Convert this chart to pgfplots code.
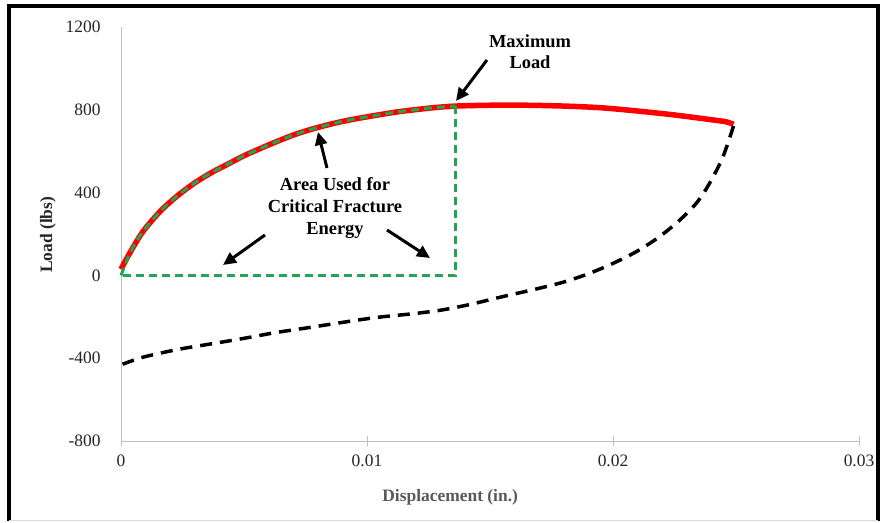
\documentclass[border=0pt]{standalone}
\usepackage{fontspec}
\setmainfont{Liberation Serif}
\usepackage{pgfplots}
\pgfplotsset{compat=1.18}
\usetikzlibrary{arrows.meta,calc}
\definecolor{fgreen}{RGB}{34,165,80}
\begin{document}
\begin{tikzpicture}
\path[use as bounding box] (0,0) rectangle (880bp,523bp);
\fill[white] (0,0) rectangle (880bp,523bp);
\begin{axis}[
 at={(121bp,82bp)}, anchor=south west,
 scale only axis, width=738bp, height=414bp,
 xmin=0, xmax=0.03, ymin=-800, ymax=1200,
 scaled x ticks=false,
 axis x line=bottom, axis y line=left,
 axis line style={-, draw=black!25, line width=1bp},
 xtick={0,0.01,0.02,0.03}, xticklabels={0,0.01,0.02,0.03},
 ytick={-800,-400,0,400,800,1200}, yticklabels={-800,-400,0,400,800,1200},
 major tick length=10bp, tick align=center,
 x tick style={draw=black!25, line width=1bp},
 y tick style={draw=none},
 tick label style={font=\fontsize{17.5}{20}\selectfont, text=black!85},
 yticklabel style={xshift=-12bp},
 xticklabel style={yshift=-5bp},
 xlabel={Displacement (in.)}, ylabel={Load (lbs)},
 xlabel style={at={($(axis description cs:0.446,0)+(0,-56bp)$)}, anchor=center,
   font=\bfseries\fontsize{17.5}{20}\selectfont, text=black!65},
 ylabel style={at={($(axis description cs:0,0.498)+(-73bp,0)$)}, anchor=center,
   font=\bfseries\fontsize{17.5}{20}\selectfont, text=black!85},
 clip=false,
]
% load curve
\addplot[red, line width=5.5bp, smooth, tension=0.5] coordinates {
 (0,30) (0.0004,117) (0.0009,213) (0.0016,310) (0.0023,385) (0.0030,447)
 (0.0037,498) (0.0044,541) (0.0050,578) (0.0057,615) (0.0064,650) (0.0071,682)
 (0.0078,708) (0.0086,733) (0.0093,751) (0.0100,766) (0.0107,780) (0.0113,791)
 (0.0120,801) (0.0127,810) (0.0136,818)
 (0.0150,822) (0.0165,822) (0.0180,818) (0.0195,810) (0.0210,794) (0.0225,775)
 (0.0240,752) (0.0246,742) (0.0249,730)};
% unloading
\addplot[black, line width=3.5bp, dash pattern=on 12bp off 8bp, smooth, tension=0.5] coordinates {
 (0.0249,722) (0.02447,573) (0.02394,448) (0.02341,352) (0.02272,268) (0.0219,188)
 (0.0210,118) (0.0200,58) (0.0190,8) (0.0180,-32) (0.0169,-65) (0.0155,-103)
 (0.0142,-140) (0.0130,-168) (0.0118,-186) (0.0104,-203) (0.0090,-227)
 (0.0077,-251) (0.0063,-276) (0.0050,-304) (0.0036,-332) (0.0023,-358)
 (0.0009,-395) (0.0000,-432)};
% area used for critical fracture energy
\addplot[fgreen, line width=3bp, dash pattern=on 8bp off 5bp, smooth, tension=0.5] coordinates {
 (0,0) (0.0004,117) (0.0009,213) (0.0016,310) (0.0023,385) (0.0030,447)
 (0.0037,498) (0.0044,541) (0.0050,578) (0.0057,615) (0.0064,650) (0.0071,682)
 (0.0078,708) (0.0086,733) (0.0093,751) (0.0100,766) (0.0107,780) (0.0113,791)
 (0.0120,801) (0.0127,810) (0.0136,818)};
\addplot[fgreen, line width=3bp, dash pattern=on 8bp off 5bp] coordinates {
 (0.0136,818) (0.0136,0) (0,0)};
\end{axis}
\begin{scope}[x=1bp, y=-1bp, shift={(0,523bp)}]
 \draw[line width=3.5bp] (9,521) -- (9,6) -- (878,6) -- (878,521);
 \draw[black!15, line width=1bp] (9,521) -- (878,521);
 \node[font=\bfseries\fontsize{18.5}{21}\selectfont, align=center] at (530,52) {Maximum\\Load};
 \node[font=\bfseries\fontsize{18.5}{22.5}\selectfont, align=center] at (335,208) {Area Used for\\Critical Fracture\\Energy};
 \draw[line width=3bp, -{Triangle[length=13bp,width=12bp]}] (487,60) -- (456,101);
 \draw[line width=3bp, -{Triangle[length=13bp,width=12bp]}] (327,168) -- (318,132);
 \draw[line width=3bp, -{Triangle[length=13bp,width=12bp]}] (265,235) -- (223,265);
 \draw[line width=3bp, -{Triangle[length=13bp,width=12bp]}] (387,230) -- (430,258);
\end{scope}
\end{tikzpicture}
\end{document}
